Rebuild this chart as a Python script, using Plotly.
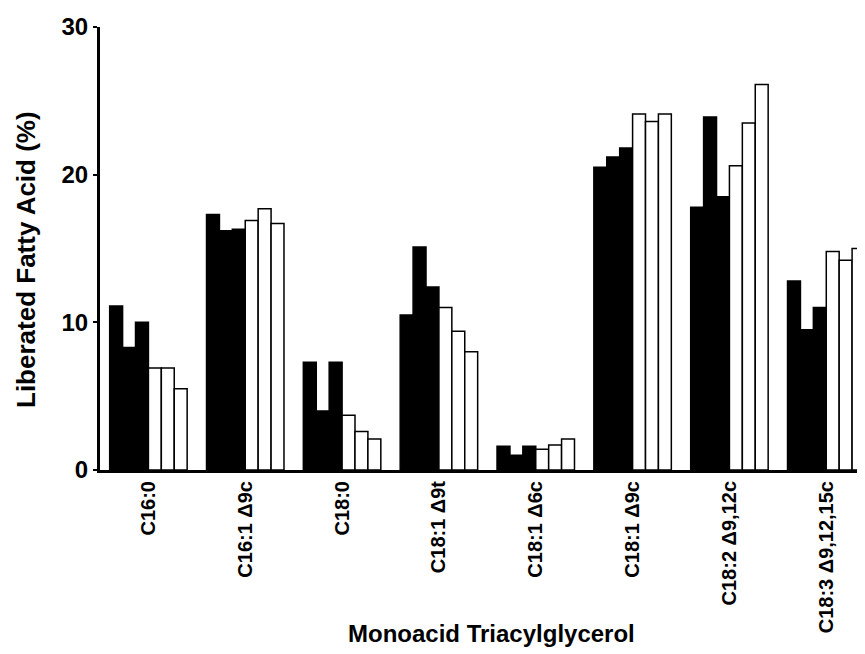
import plotly.graph_objects as go

categories = ["C16:0", "C16:1 Δ9c", "C18:0", "C18:1 Δ9t", "C18:1 Δ6c",
              "C18:1 Δ9c", "C18:2 Δ9,12c", "C18:3 Δ9,12,15c"]

black1 = [11.1, 17.3, 7.3, 10.5, 1.6, 20.5, 17.8, 12.8]
black2 = [8.3, 16.2, 4.0, 15.1, 1.0, 21.2, 23.9, 9.5]
black3 = [10.0, 16.3, 7.3, 12.4, 1.6, 21.8, 18.5, 11.0]
white1 = [6.9, 16.9, 3.7, 11.0, 1.4, 24.1, 20.6, 14.8]
white2 = [6.9, 17.7, 2.6, 9.4, 1.7, 23.6, 23.5, 14.2]
white3 = [5.5, 16.7, 2.1, 8.0, 2.1, 24.1, 26.1, 15.0]

y_ticks = [0, 10, 20, 30]

series = [(black1, "black"), (black2, "black"), (black3, "black"),
          (white1, "white"), (white2, "white"), (white3, "white")]

FONT = "Liberation Sans, Arial, sans-serif"

# page has an 8px body margin; compensate so the plot lands where the reference has it
W, H = 857, 646
L, T, PW, PH = 92, 19, 765, 443
B = H - T - PH

fig = go.Figure()
for vals, col in series:
    fig.add_trace(go.Bar(
        x=categories, y=vals,
        marker=dict(color=col, line=dict(color="black", width=1.5)),
        showlegend=False,
    ))

fig.update_layout(
    width=W, height=H,
    margin=dict(l=L, r=W - L - PW, t=T, b=B, autoexpand=False),
    plot_bgcolor="white", paper_bgcolor="white",
    barmode="group", bargap=0.2, bargroupgap=0,
    font=dict(family=FONT, color="black"),
    xaxis=dict(
        type="category", range=[-0.5, 7.4],
        showline=True, linecolor="black", linewidth=3,
        ticks="", tickangle=-90,
        tickfont=dict(size=20, family=FONT, weight="bold"),
        showgrid=False, zeroline=False, automargin=False,
    ),
    yaxis=dict(
        range=[0, 30], tickvals=y_ticks,
        showline=True, linecolor="black", linewidth=3,
        ticks="outside", ticklen=4, tickwidth=2, tickcolor="black",
        tickfont=dict(size=24, family=FONT, weight="bold"),
        showgrid=False, zeroline=False, automargin=False,
    ),
    annotations=[
        dict(text="Monoacid Triacylglycerol", xref="paper", yref="paper",
             x=(484 - L) / PW, y=-(625 - (T + PH)) / PH, showarrow=False,
             xanchor="center", yanchor="middle",
             font=dict(size=24, family=FONT, weight="bold")),
        dict(text="Liberated Fatty Acid (%)", xref="paper", yref="paper",
             x=-(L - 18) / PW, y=((T + PH) - 252) / PH, showarrow=False,
             xanchor="center", yanchor="middle", textangle=-90,
             font=dict(size=26, family=FONT, weight="bold")),
    ],
)

fig.write_html("out.html")
